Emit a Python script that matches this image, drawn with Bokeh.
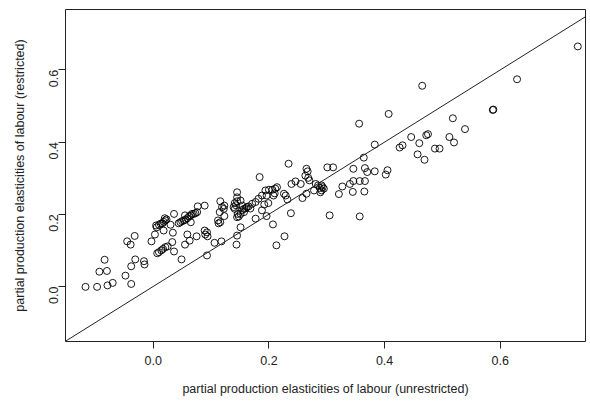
from bokeh.plotting import figure
from bokeh.models import Range1d, FixedTicker, PrintfTickFormatter, Slope, ColumnDataSource
from bokeh.embed import file_html
from bokeh.resources import INLINE
import math

# partial production elasticities of labour
unrestricted = [
    -0.117, -0.097, -0.079, -0.070, -0.093, -0.080, -0.084, -0.048, -0.038, -0.038,
    -0.031, -0.016, -0.015, -0.045, -0.039, -0.032, -0.003, 0.003, 0.006, 0.018,
    0.005, 0.010, 0.013, 0.016, 0.018, 0.021, 0.020, 0.023, 0.036, 0.030,
    0.034, 0.007, 0.010, 0.014, 0.017, 0.021, 0.025, 0.033, 0.036, 0.049,
    0.055, 0.063, 0.059, 0.075, 0.089, 0.093, 0.090, 0.094, 0.106, 0.093,
    0.044, 0.047, 0.050, 0.053, 0.056, 0.059, 0.062, 0.065, 0.067, 0.070,
    0.073, 0.076, 0.055, 0.065, 0.077, 0.089, 0.116, 0.119, 0.123, 0.122,
    0.115, 0.112, 0.113, 0.116, 0.123, 0.141, 0.145, 0.143, 0.139, 0.141,
    0.146, 0.145, 0.148, 0.145, 0.118, 0.145, 0.144, 0.151,
    0.234, 0.184, 0.265, 0.267, 0.263, 0.268, 0.301, 0.311, 0.239, 0.246,
    0.255, 0.270, 0.281, 0.285, 0.288, 0.291, 0.293, 0.291, 0.295, 0.289,
    0.278, 0.265, 0.258, 0.238, 0.305, 0.226, 0.229, 0.232, 0.214, 0.211,
    0.206, 0.200, 0.210, 0.208, 0.194, 0.188, 0.182, 0.177, 0.171, 0.165,
    0.162, 0.160, 0.157, 0.154, 0.168, 0.196, 0.199, 0.192, 0.188, 0.196,
    0.177, 0.145, 0.151, 0.154, 0.157, 0.151, 0.207, 0.227, 0.213,
    0.734, 0.629, 0.587, 0.588, 0.465, 0.407, 0.356, 0.518, 0.539, 0.446,
    0.460, 0.472, 0.475, 0.512, 0.520, 0.426, 0.431, 0.487, 0.495, 0.383,
    0.364, 0.457, 0.469, 0.346, 0.366, 0.370, 0.383, 0.405, 0.402, 0.346,
    0.340, 0.357, 0.366, 0.327, 0.321, 0.345, 0.365, 0.357,
]
restricted = [
    -0.001, -0.001, 0.003, 0.010, 0.041, 0.043, 0.074, 0.030, 0.007, 0.056,
    0.075, 0.070, 0.061, 0.125, 0.116, 0.140, 0.125, 0.144, 0.164, 0.155,
    0.169, 0.171, 0.174, 0.175, 0.179, 0.183, 0.189, 0.186, 0.201, 0.171,
    0.149, 0.092, 0.095, 0.100, 0.104, 0.109, 0.111, 0.123, 0.097, 0.075,
    0.116, 0.127, 0.144, 0.139, 0.155, 0.150, 0.144, 0.139, 0.121, 0.086,
    0.175, 0.178, 0.181, 0.183, 0.185, 0.189, 0.194, 0.197, 0.201, 0.201,
    0.203, 0.206, 0.197, 0.178, 0.222, 0.224, 0.236, 0.220, 0.224, 0.215,
    0.206, 0.183, 0.175, 0.178, 0.195, 0.231, 0.236, 0.225, 0.220, 0.215,
    0.201, 0.192, 0.194, 0.261, 0.125, 0.141, 0.116, 0.164,
    0.340, 0.303, 0.326, 0.319, 0.307, 0.301, 0.330, 0.330, 0.284, 0.291,
    0.284, 0.294, 0.284, 0.280, 0.273, 0.280, 0.275, 0.266, 0.271, 0.261,
    0.266, 0.257, 0.245, 0.203, 0.197, 0.257, 0.252, 0.241, 0.275, 0.271,
    0.268, 0.268, 0.258, 0.252, 0.266, 0.252, 0.243, 0.234, 0.229, 0.222,
    0.220, 0.217, 0.215, 0.212, 0.216, 0.252, 0.231, 0.227, 0.211, 0.195,
    0.188, 0.247, 0.238, 0.224, 0.206, 0.201, 0.172, 0.139, 0.114,
    0.665, 0.574, 0.489, 0.490, 0.556, 0.478, 0.451, 0.466, 0.436, 0.414,
    0.397, 0.419, 0.422, 0.414, 0.399, 0.385, 0.391, 0.382, 0.382, 0.393,
    0.357, 0.366, 0.351, 0.326, 0.328, 0.317, 0.319, 0.322, 0.310, 0.292,
    0.284, 0.292, 0.292, 0.277, 0.256, 0.262, 0.263, 0.194,
]
tick_values = [0.0, 0.2, 0.4, 0.6]
x_title = "partial production elasticities of labour (unrestricted)"
y_title = "partial production elasticities of labour (restricted)"

n = min(len(unrestricted), len(restricted))
src = ColumnDataSource(dict(x=unrestricted[:n], y=restricted[:n]))

FONT = "Liberation Sans"
p = figure(width=590, height=404, output_backend="svg", toolbar_location=None,
           x_range=Range1d(-0.1516, 0.7473), y_range=Range1d(-0.1524, 0.7673),
           min_border_left=65, min_border_right=5, min_border_top=9, min_border_bottom=63)
p.background_fill_color = "white"
p.border_fill_color = "white"
p.outline_line_color = "#222222"
p.outline_line_width = 1
p.grid.visible = False

p.scatter("x", "y", source=src, size=7, fill_color=None, line_color="black", line_width=0.9)
p.add_layout(Slope(gradient=1, y_intercept=0, line_color="#222222", line_width=1))

for ax in (p.xaxis[0], p.yaxis[0]):
    ax.ticker = FixedTicker(ticks=tick_values)
    ax.formatter = PrintfTickFormatter(format="%.1f")
    ax.axis_line_color = None
    ax.major_tick_out = 7
    ax.major_tick_in = 0
    ax.major_tick_line_color = "#222222"
    ax.minor_tick_line_color = None
    ax.major_label_text_font = FONT
    ax.major_label_text_font_size = "12.5px"
    ax.major_label_text_color = "#222222"
    ax.axis_label_text_font = FONT
    ax.axis_label_text_font_size = "12.5px"
    ax.axis_label_text_font_style = "normal"
    ax.axis_label_text_color = "#222222"

p.xaxis.axis_label = x_title
p.yaxis.axis_label = y_title
p.xaxis.major_label_standoff = 7
p.xaxis.axis_label_standoff = 14
p.yaxis.major_label_standoff = 5
p.yaxis.axis_label_standoff = 15
p.yaxis.major_label_orientation = math.pi / 2

open("out.html", "w").write(file_html(p, INLINE))
